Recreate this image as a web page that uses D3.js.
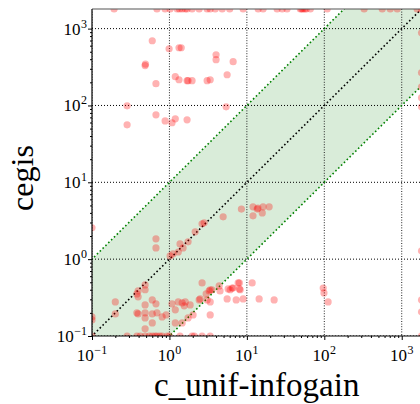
<!DOCTYPE html>
<html>
<head>
<meta charset="utf-8">
<script src="https://cdn.jsdelivr.net/npm/d3@7"></script>
<style>
  body { margin: 0; background: #fff; }
</style>
</head>
<body>
<div id="chart"></div>
<script>
// run times in seconds, timeout = 1800
var timeout = 1800;

var cUnifTimes = [
  // cegis timed out
  0.193, 0.69, 0.88, 1.02, 1.26, 1.35, 1.46, 1.6, 1.69, 1.96, 2.42, 3.07, 3.36, 3.9, 4.8, 6.0, 8.96, 14, 16.2,
  24.6, 28.6, 33, 49, 51, 53, 56, 58.5, 66, 109, 327, 560, 710, 875, 1580, 1800,
  // c_unif-infogain timed out
  1800, 1800, 1800, 1800, 1800, 1800, 1800, 1800, 1800,
  // upper left
  0.60, 0.99, 1.33, 1.42, 0.485, 0.49, 0.67, 1.19, 1.33, 1.69, 1.74, 1.96, 3.07, 0.284, 0.284, 0.67, 0.88, 1.08, 1.19, 1.69,
  4.0, 4.0, 6.65, 5.56, 3.36, 5.4,
  // near diagonal
  0.1, 0.67, 0.67, 1.02, 1.11, 1.37, 1.50, 1.74, 2.15, 2.64, 2.81, 1.3,
  // lower left cluster
  2.64, 3.26, 0.1, 0.1, 0.1, 0.2, 0.2, 0.394, 0.38, 0.394, 0.485, 0.485, 0.38, 0.394, 0.485, 0.485, 0.485, 0.485,
  0.60, 0.60, 0.60, 0.67, 0.69, 0.805, 0.906, 1.08, 1.19, 1.30, 1.46, 1.55, 1.6, 1.85, 1.74, 2.02, 1.19, 1.46, 2.42, 3.07,
  // bottom row
  0.284, 0.38, 0.42, 0.485, 0.55, 0.60, 0.65, 0.69, 0.75, 0.805, 0.93, 1.0, 1.37, 1.96, 2.1, 2.64, 3.36,
  // right of diagonal
  8.5, 12.0, 13.6, 13.9, 16.2, 19.4, 15.8, 12.0, 4.94,
  3.36, 4.39, 4.5, 5.73, 6.45, 7.72, 8.2, 8.0, 11.7, 96.8, 99, 112, 5.56, 7.28, 8.96, 14.4, 22.5,
  3.36, 3.36, 3.55, 2.98, 2.49, 6.08, 8.0, 6.65
];

var cegisTimes = [
  1800, 1800, 1800, 1800, 1800, 1800, 1800, 1800, 1800, 1800, 1800, 1800, 1800, 1800, 1800, 1800, 1800, 1800, 1800,
  1800, 1800, 1800, 1800, 1800, 1800, 1800, 1800, 1800, 1800, 1800, 1800, 1800, 1800, 1800, 1800,
  882, 267, 175, 126, 96, 1.28, 0.294, 0.206, 0.1,
  695, 547, 564, 564, 330, 345, 192, 237, 216, 210, 210, 210, 210, 99, 56, 75.5, 63, 59.6, 67, 65,
  457, 394, 371, 251, 216, 96,
  2.56, 1.84, 1.40, 1.10, 1.17, 1.58, 1.40, 1.68, 2.27, 2.88, 2.97, 1.24,
  0.49, 0.386, 0.177, 0.162, 0.1, 0.278, 0.194, 0.386, 0.353, 0.323, 0.462, 0.40, 0.20, 0.194, 0.254, 0.20, 0.172, 0.124,
  0.295, 0.194, 0.148, 0.262, 0.20, 0.177, 0.188, 0.262, 0.219, 0.278, 0.27, 0.247, 0.278, 0.254, 0.172, 0.188, 0.148, 0.148, 0.295, 0.295,
  0.1, 0.1, 0.1, 0.1, 0.1, 0.1, 0.1, 0.1, 0.1, 0.1, 0.1, 0.1, 0.1, 0.1, 0.1, 0.1, 0.1,
  4.49, 4.8, 4.49, 4.6, 4.8, 4.8, 4.0, 3.66, 3.56,
  0.40, 0.449, 0.386, 0.41, 0.42, 0.49, 0.40, 0.41, 0.49, 0.42, 0.364, 0.278, 0.304, 0.295, 0.304, 0.304, 0.295,
  0.278, 0.188, 0.40, 0.353, 0.304, 0.40, 0.49, 0.42
];

var majorTicks = [0.1, 1, 10, 100, 1000];
var tickExponents = ["\u22121", "0", "1", "2", "3"];
var bandFactor = 10;   // shaded band: within 10x of each other
var lineExtent = [0.01, 100000];

var xLabel = "c_unif-infogain";
var yLabel = "cegis";

var points = cUnifTimes.map((d, i) => ({x: d, y: cegisTimes[i]}));

var font = "'Liberation Serif', 'Times New Roman', serif";

var margin = {left: 92, top: 9};
var width = 329.5, height = 327;

var svg = d3.select("#chart")
  .append("svg")
  .attr("width", 420)
  .attr("height", 404)
  .style("font-family", font);

var g = svg.append("g")
  .attr("transform", "translate(" + margin.left + "," + margin.top + ")");

var x = d3.scaleLog().domain([0.1, timeout]).range([0, width]);
var y = d3.scaleLog().domain([0.1, timeout]).range([height, 0]);

g.append("clipPath").attr("id", "plotclip")
  .append("rect").attr("width", width).attr("height", height);

var plot = g.append("g").attr("clip-path", "url(#plotclip)");

var line = d3.line().x(d => x(d[0])).y(d => y(d[1]));

// green band between y = x/10 and y = 10x
var bandPts = [
  [lineExtent[0], lineExtent[0] * bandFactor],
  [lineExtent[1] / bandFactor, lineExtent[1]],
  [lineExtent[1], lineExtent[1] / bandFactor],
  [lineExtent[0] * bandFactor, lineExtent[0]]
];
plot.append("path")
  .attr("d", line(bandPts) + "Z")
  .attr("fill", "rgb(217,236,217)");

// grid
plot.selectAll(".hgrid")
  .data(majorTicks)
  .enter()
  .append("line")
  .attr("x1", 0).attr("x2", width)
  .attr("y1", d => y(d)).attr("y2", d => y(d))
  .attr("stroke", "#000")
  .attr("stroke-width", 1)
  .attr("stroke-dasharray", "1,2");

plot.selectAll(".vgrid")
  .data(majorTicks)
  .enter()
  .append("line")
  .attr("y1", 0).attr("y2", height)
  .attr("x1", d => x(d)).attr("x2", d => x(d))
  .attr("stroke", "#222")
  .attr("stroke-width", 1)
  .attr("stroke-dasharray", "1,1.6");

// band edges and diagonal
plot.append("path")
  .attr("d", line(lineExtent.map(v => [v, v * bandFactor])))
  .attr("stroke", "#008000").attr("stroke-width", 1.6).attr("fill", "none")
  .attr("stroke-dasharray", "1.6,2.4");
plot.append("path")
  .attr("d", line(lineExtent.map(v => [v, v / bandFactor])))
  .attr("stroke", "#008000").attr("stroke-width", 1.6).attr("fill", "none")
  .attr("stroke-dasharray", "1.6,2.4");
plot.append("path")
  .attr("d", line(lineExtent.map(v => [v, v])))
  .attr("stroke", "#000").attr("stroke-width", 1.6).attr("fill", "none")
  .attr("stroke-dasharray", "1.6,2.4");

// points
plot.selectAll("circle")
  .data(points)
  .enter()
  .append("circle")
  .attr("cx", d => x(d.x))
  .attr("cy", d => y(d.y))
  .attr("r", 3.6)
  .attr("fill", "red")
  .attr("fill-opacity", 0.3);

// minor ticks
var minorTicks = [];
for (var e = -1; e < 4; e++) {
  for (var m = 2; m < 10; m++) {
    var v = m * Math.pow(10, e);
    if (v <= timeout) minorTicks.push(v);
  }
}

g.append("g")
  .attr("transform", "translate(0," + height + ")")
  .call(d3.axisBottom(x).tickValues(minorTicks).tickSize(2).tickFormat(""))
  .call(a => a.select(".domain").remove());
g.append("g")
  .call(d3.axisLeft(y).tickValues(minorTicks).tickSize(2).tickFormat(""))
  .call(a => a.select(".domain").remove());

// major ticks
g.append("g")
  .attr("transform", "translate(0," + height + ")")
  .call(d3.axisBottom(x).tickValues(majorTicks).tickSize(4).tickFormat(""))
  .call(a => a.select(".domain").remove());
g.append("g")
  .call(d3.axisLeft(y).tickValues(majorTicks).tickSize(4).tickFormat(""))
  .call(a => a.select(".domain").remove());

// spines
g.append("line").attr("x1", 0).attr("x2", 0).attr("y1", 0).attr("y2", height)
  .attr("stroke", "#000").attr("stroke-width", 1.2);
g.append("line").attr("x1", 0).attr("x2", width).attr("y1", height).attr("y2", height)
  .attr("stroke", "#000").attr("stroke-width", 1.2);
g.append("line").attr("x1", 0).attr("x2", width).attr("y1", 0).attr("y2", 0)
  .attr("stroke", "#555").attr("stroke-width", 1.2);

// tick labels
var yl = g.selectAll(".ylab")
  .data(majorTicks)
  .enter()
  .append("text")
  .attr("x", -5)
  .attr("y", d => y(d) + 6)
  .attr("text-anchor", "end")
  .style("font-size", "17px");
yl.append("tspan").text("10");
yl.append("tspan").attr("dx", 0.5).attr("dy", -7).style("font-size", "12px").text((d, i) => tickExponents[i]);

var xl = g.selectAll(".xlab")
  .data(majorTicks)
  .enter()
  .append("text")
  .attr("x", d => x(d))
  .attr("y", height + 25)
  .attr("text-anchor", "middle")
  .style("font-size", "17px");
xl.append("tspan").text("10");
xl.append("tspan").attr("dx", 0.5).attr("dy", -7).style("font-size", "12px").text((d, i) => tickExponents[i]);

// axis titles
svg.append("text")
  .attr("x", margin.left + width / 2)
  .attr("y", 396)
  .attr("text-anchor", "middle")
  .style("font-size", "33px")
  .text(xLabel);

svg.append("text")
  .attr("transform", "translate(33,178) rotate(-90)")
  .attr("text-anchor", "middle")
  .style("font-size", "32px")
  .text(yLabel);
</script>
</body>
</html>
